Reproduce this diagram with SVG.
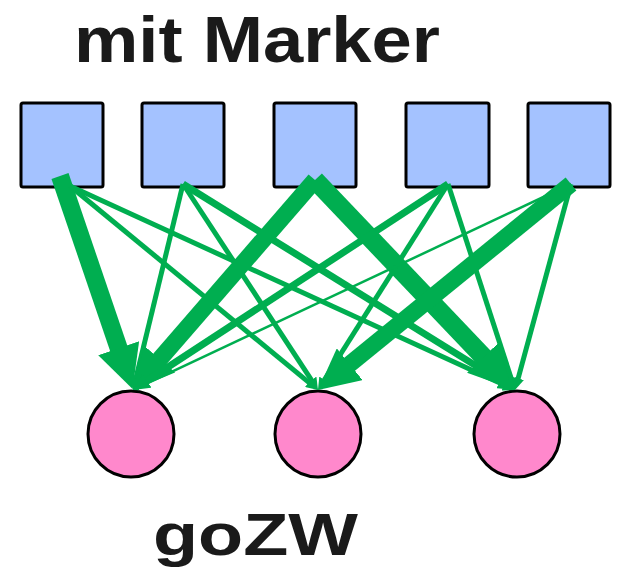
<svg xmlns="http://www.w3.org/2000/svg" width="617" height="571" viewBox="0 0 617 571">
  <style>
    .title { font-family: "Liberation Sans", Arial, sans-serif; font-weight: bold; fill: #1a1a1a; }
    .marker { fill: #a4c2ff; stroke: #000; stroke-width: 3; }
    .gozw { fill: #ff88cc; stroke: #000; stroke-width: 3; }
    .edge { stroke: #00ae50; fill: none; stroke-linecap: butt; marker-end: url(#head); }
  </style>
  <defs>
    <!-- arrowhead scaled by stroke width; line ends 2 widths before the tip -->
    <marker id="head" viewBox="0 0 2.4 2.4" refX="0.4" refY="1.2" markerWidth="2.4" markerHeight="2.4" markerUnits="strokeWidth" orient="auto">
      <path d="M0,0 L2.4,1.2 L0,2.4 z" fill="#00ae50"/>
    </marker>
  </defs>

  <text class="title" x="74" y="62" font-size="64" textLength="366" lengthAdjust="spacingAndGlyphs">mit Marker</text>
  <text class="title" x="153" y="555" font-size="60" textLength="205" lengthAdjust="spacingAndGlyphs">goZW</text>

  <g id="m1"><rect class="marker" x="21" y="103" width="82" height="84" rx="2"/></g>
  <g id="m2"><rect class="marker" x="142" y="103" width="82" height="84" rx="2"/></g>
  <g id="m3"><rect class="marker" x="274" y="103" width="82" height="84" rx="2"/></g>
  <g id="m4"><rect class="marker" x="406" y="103" width="83" height="84" rx="2"/></g>
  <g id="m5"><rect class="marker" x="528" y="103" width="82" height="84" rx="2"/></g>

  <g id="g1"><circle class="gozw" cx="131" cy="434" r="43"/></g>
  <g id="g2"><circle class="gozw" cx="318" cy="434" r="43"/></g>
  <g id="g3"><circle class="gozw" cx="517" cy="434" r="43"/></g>

  <g id="connectors">
    <!-- from marker 1 -->
    <line class="edge" x1="60" y1="176" x2="121" y2="355" stroke-width="18"/>
    <line class="edge" x1="70" y1="186" x2="310.3" y2="383.6" stroke-width="5"/>
    <line class="edge" x1="70" y1="186" x2="505.9" y2="385.8" stroke-width="5"/>
    <!-- from marker 2 -->
    <line class="edge" x1="183" y1="184" x2="135.4" y2="380.3" stroke-width="5"/>
    <line class="edge" x1="183" y1="184" x2="312.5" y2="381.6" stroke-width="5"/>
    <line class="edge" x1="183" y1="184" x2="503.1" y2="382.6" stroke-width="7"/>
    <!-- from marker 3 -->
    <line class="edge" x1="315" y1="180" x2="155.3" y2="364.3" stroke-width="17"/>
    <line class="edge" x1="315" y1="180" x2="488.8" y2="362.5" stroke-width="19"/>
    <!-- from marker 4 -->
    <line class="edge" x1="448" y1="184" x2="144.7" y2="382.3" stroke-width="7"/>
    <line class="edge" x1="448" y1="184" x2="323.3" y2="381.5" stroke-width="5"/>
    <line class="edge" x1="448" y1="184" x2="511.9" y2="380.5" stroke-width="5"/>
    <!-- from marker 5 -->
    <line class="edge" x1="571" y1="184" x2="137.5" y2="387.9" stroke-width="2.5"/>
    <line class="edge" x1="571" y1="184" x2="344.4" y2="368.5" stroke-width="17"/>
    <line class="edge" x1="571" y1="184" x2="517.6" y2="380.4" stroke-width="5"/>
  </g>
</svg>
